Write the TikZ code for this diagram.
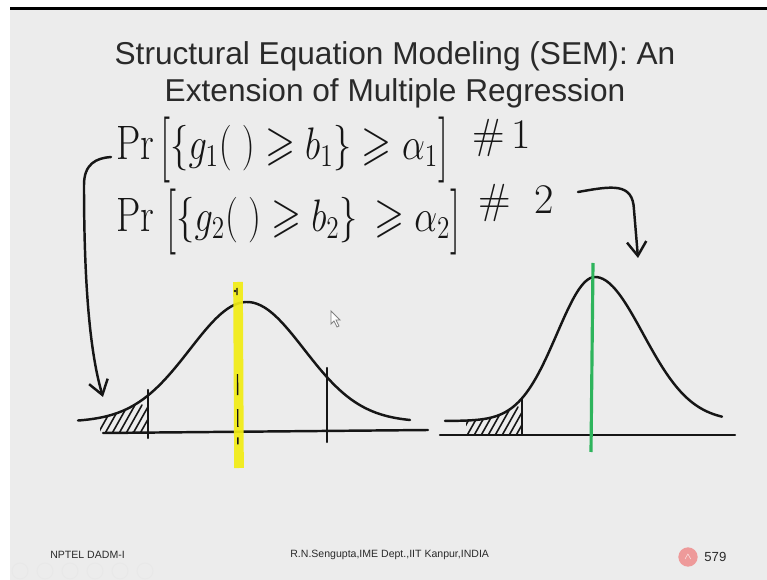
\documentclass[tikz,border=0pt]{standalone}
\usepackage{amssymb}
\usepackage{amsmath}
\usepackage{graphicx}
\usepackage{fontspec}
\newfontfamily\slidefont{Liberation Sans}
\usepackage{tikz}
\usetikzlibrary{positioning,arrows.meta,calc}
\definecolor{slidebg}{HTML}{ECECEC}
\definecolor{ink}{HTML}{161616}
\definecolor{titlegray}{HTML}{2A2A2A}
\definecolor{marker}{HTML}{F2EC14}
\definecolor{pengreen}{HTML}{2EB45C}
\definecolor{badge}{HTML}{EE9A9A}
\newcommand{\hand}[1]{\scalebox{1}[1.25]{$#1$}}
\newcommand{\tallbr}[1]{\raisebox{-0.14em}{\scalebox{1.1}[1.45]{$#1$}}}

\begin{document}
\begin{tikzpicture}[x=0.02cm, y=-0.02cm,
        pen/.style={ink, line width=1.4pt, line cap=round, line join=round},
        handarrow/.style={pen, -{Straight Barb[length=8pt, width=11pt]}},
        hatch/.style={ink, line width=0.9pt, line cap=round},
        titletext/.style={text=titlegray, inner sep=0pt,
        font=\slidefont\fontsize{18}{21}\selectfont},
        handtext/.style={text=ink, inner sep=0pt,
        font=\fontsize{22}{26}\selectfont},
        foottext/.style={text=titlegray, inner sep=0pt,
        font=\slidefont\fontsize{6}{7}\selectfont},
      ]
      \useasboundingbox (0,0) rectangle (767,580);
      \fill[white] (0,0) rectangle (767,580);
      \fill[slidebg] (10,10) rectangle (767,580);
      \draw[black, line width=1.2pt] (10,8.5) -- (767,8.5);

      % Title
      \node[titletext, anchor=base] (titleone) at (395,65)
      {Structural Equation Modeling (SEM): An};
      \node[titletext, anchor=base] (titletwo) at (395,102)
      {Extension of Multiple Regression};

      % Handwritten constraints
      \node[handtext, anchor=west] (eqone) at (116,150)
      {\hand{\Pr\tallbr{[}\{g_1(\;)\geqslant b_1\}\geqslant\alpha_1\tallbr{]}}};
      \node[handtext, anchor=west, font=\fontsize{24}{28}\selectfont]
      (hashone) at (472,138) {\#\,1};
      \node[handtext, anchor=west] (eqtwo) at (116,222)
      {\hand{\Pr\,\tallbr{[}\{g_2(\;)\geqslant b_2\}\,\geqslant\alpha_2\tallbr{]}}};
      \node[handtext, anchor=west, font=\fontsize{24}{28}\selectfont]
      (hashtwo) at (478,203) {\#\;\;2};

      \coordinate (hookone) at ($(eqone.west)+(-5,7)$);
      \coordinate (tipone) at (103,397);
      \draw[handarrow] (hookone) .. controls (96,158) and (84,164) .. (84,185)
      .. controls (84,300) and (92,360) .. (tipone);

      \coordinate (hooktwo) at (578,192);
      \coordinate (tiptwo) at (638,258);
      \draw[handarrow] (hooktwo) .. controls (612,186) and (633,182) .. (634,210)
      -- (tiptwo);

      % Left curve
      \draw[pen] (103,433) -- (428,430);
      \draw[pen] plot[domain=78:410, samples=90, smooth]
      (\x,{422-120*exp(-((\x-247)/57)^2/2)});
      \begin{scope}
        \clip plot[domain=100:148, samples=20]
        (\x,{422-120*exp(-((\x-247)/57)^2/2)}) -- (148,433) -- (100,433) -- cycle;
        \foreach \k in {0,...,8}
        \draw[hatch] (96+\k*7,437) -- ++(18,-32);
      \end{scope}
      \draw[pen] (148,390) -- (148,438);
      \draw[pen] (327,368) -- (327,442);
      \draw[marker, line width=5.5pt, opacity=0.92] (238,282) -- (239,468);
      \draw[ink, line width=0.8pt, dash pattern=on 4pt off 45pt on 12pt off 8pt on 10pt off 6pt]
      (237,288) -- (238,462);
      \fill[ink] (235,291) circle (1.3);

      % Right curve
      \draw[pen] (440,435) -- (735,435);
      \draw[pen] plot[domain=445:595, samples=60, smooth]
      (\x,{421-144*exp(-((\x-595)/38)^2/2)})
      -- plot[domain=595:722, samples=50, smooth]
      (\x,{421-144*exp(-((\x-595)/48)^2/2)});
      \begin{scope}
        \clip plot[domain=466:522, samples=20]
        (\x,{421-144*exp(-((\x-595)/38)^2/2)}) -- (522,435) -- (466,435) -- cycle;
        \foreach \k in {0,...,9}
        \draw[hatch] (458+\k*7,439) -- ++(18,-32);
      \end{scope}
      \draw[pen] (522,398) -- (522,434);
      \draw[pengreen, line width=1.8pt] (593,263) -- (591,452);

      % Mouse pointer
      \draw[gray, fill=white, line width=0.5pt] (331,311) -- (331,324) -- (334,321)
      -- (337,327) -- (339,326) -- (336,320) -- (340,320) -- cycle;

      % Footer
      \node[foottext, anchor=west] (lefttag) at (50,555) {NPTEL DADM-I};
      \node[foottext, anchor=west] (authortag) at (290,555)
      {R.N.Sengupta,IME Dept.,IIT Kanpur,INDIA};
      \node[circle, fill=badge, inner sep=0pt, minimum size=11pt] (badgedot) at (688,557)
      {\textcolor{white}{$\scriptscriptstyle\wedge$}};
      \node[foottext, anchor=west, font=\slidefont\fontsize{7.5}{9}\selectfont]
      (pagenum) at (704,557) {579};
      \foreach \i in {0,...,5}
      \draw[gray!18, line width=0.5pt] (20+\i*25,571) circle (8);
    \end{tikzpicture}
\end{document}
